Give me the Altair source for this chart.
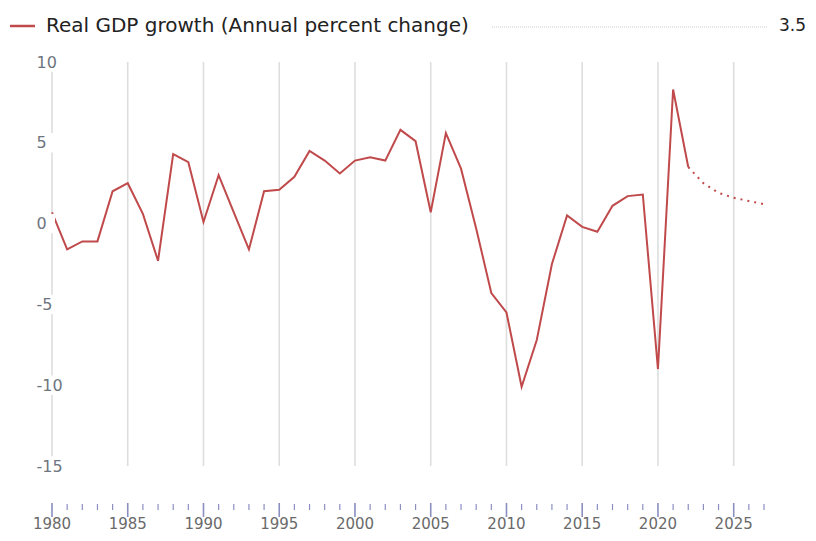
import altair as alt
import pandas as pd

# ---- data ----
years = list(range(1980, 2028))
gdp = [0.7, -1.6, -1.1, -1.1, 2.0, 2.5, 0.6, -2.3, 4.3, 3.8,
       0.1, 3.0, 0.7, -1.6, 2.0, 2.1, 2.9, 4.5, 3.9, 3.1,
       3.9, 4.1, 3.9, 5.8, 5.1, 0.7, 5.6, 3.4, -0.3, -4.3,
       -5.5, -10.1, -7.2, -2.5, 0.5, -0.2, -0.5, 1.1, 1.7, 1.8,
       -9.0, 8.3, 3.5, 2.5, 1.9, 1.6, 1.4, 1.2]
last_actual_year = 2022
series_name = "Real GDP growth (Annual percent change)"
grid_years = [1980, 1985, 1990, 1995, 2000, 2005, 2010, 2015, 2020, 2025]
minor_years = [y for y in years if y % 5 != 0]
y_ticks = [-15, -10, -5, 0, 5, 10]

df = pd.DataFrame({"year": years, "v": gdp})
grid_df = pd.DataFrame({"year": grid_years})
minor_df = pd.DataFrame({"year": minor_years})
gap_df = pd.DataFrame({"v": y_ticks})

LINE = "#c04a4b"
FONT = "DejaVu Sans"
TICK = "#8a8fc0"

xscale = alt.Scale(domain=[1980, 2027], nice=False, zero=False)
yscale = alt.Scale(domain=[-15, 10], nice=False, zero=False)

yaxis = alt.Axis(
    values=y_ticks, title=None, domain=False, ticks=False, grid=False,
    labelExpr="datum.value + ''",
    labelAlign="left", labelBaseline="middle", labelPadding=16,
    labelFont=FONT, labelFontSize=16, labelColor="#6e7580", zindex=1,
)

x_enc = alt.X("year:Q", scale=xscale, axis=None)

grid = alt.Chart(grid_df).mark_rule(color="#dedede", strokeWidth=1.6).encode(
    x=x_enc,
    y=alt.Y(datum=10, scale=yscale, axis=yaxis),
    y2=alt.Y2(datum=-15),
)

gaps = alt.Chart(gap_df).mark_rect(color="white").encode(
    x=alt.X(datum=1979.8, scale=xscale, axis=None),
    x2=alt.X2(datum=1980.2),
    y=alt.Y("lo:Q", scale=yscale, axis=yaxis),
    y2="hi:Q",
).transform_calculate(lo="datum.v - 0.6", hi="datum.v + 0.6")

actual = alt.Chart(df).transform_filter(
    alt.datum.year <= last_actual_year
).mark_line(color=LINE, strokeWidth=2).encode(
    x=x_enc, y=alt.Y("v:Q", scale=yscale, axis=yaxis)
)

forecast = alt.Chart(df).transform_filter(
    alt.datum.year >= last_actual_year
).mark_line(color=LINE, strokeWidth=2, strokeDash=[2, 5]).encode(
    x=x_enc, y=alt.Y("v:Q", scale=yscale, axis=yaxis)
)

# ---- separate year ruler below the plot ----
major_ticks = alt.Chart(grid_df).mark_rule(color=TICK, strokeWidth=1.6).encode(
    x=x_enc, y=alt.value(441), y2=alt.value(455)
)
minor_ticks = alt.Chart(minor_df).mark_rule(color=TICK, strokeWidth=1.2).encode(
    x=x_enc, y=alt.value(442), y2=alt.value(448)
)
year_labels = alt.Chart(grid_df).mark_text(
    align="center", baseline="alphabetic", font=FONT, fontSize=15, color="#6a6a6a"
).encode(x=x_enc, y=alt.value(467), text=alt.Text("year:Q", format="d"))

# ---- legend row above the plot ----
leg_y = -36
leg_swatch = alt.Chart(df.head(1)).mark_rule(color=LINE, strokeWidth=2.5).encode(
    x=alt.value(-42), x2=alt.value(-17), y=alt.value(leg_y)
)
leg_text = alt.Chart(df.head(1)).mark_text(
    align="left", baseline="middle", font=FONT, fontSize=20, color="#222222"
).encode(x=alt.value(-6), y=alt.value(leg_y), text=alt.value(series_name))
leg_leader = alt.Chart(df.head(1)).mark_rule(
    color="#cfcfcf", strokeWidth=1, strokeDash=[1, 1]
).encode(x=alt.value(440), x2=alt.value(716), y=alt.value(leg_y + 1))
leg_value = alt.Chart(df).transform_filter(
    alt.datum.year == last_actual_year
).mark_text(
    align="right", baseline="middle", font=FONT, fontSize=17, color="#222222"
).encode(x=alt.value(754), y=alt.value(leg_y), text=alt.Text("v:Q", format=".1f"))

chart = alt.layer(
    grid, actual, forecast, gaps, major_ticks, minor_ticks, year_labels,
    leg_swatch, leg_text, leg_leader, leg_value
).properties(
    width=712, height=404,
    background="white",
    autosize=alt.AutoSizeParams(type="none"),
    padding={"left": 44, "top": 54, "right": 44, "bottom": 67},
).configure_view(stroke=None)

chart.save("out.html", embed_options={"renderer": "svg", "actions": False})
